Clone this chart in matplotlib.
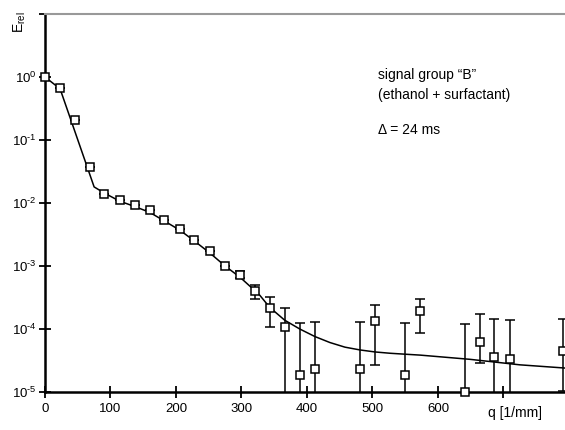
import numpy as np
import matplotlib
matplotlib.use("Agg")
import matplotlib.pyplot as plt

plt.rcParams['font.family'] = ['Liberation Sans', 'DejaVu Sans']
plt.rcParams['mathtext.fontset'] = 'custom'
plt.rcParams['mathtext.rm'] = 'Liberation Sans'
plt.rcParams['mathtext.it'] = 'Liberation Sans'
plt.rcParams['mathtext.default'] = 'regular'
plt.rcParams['axes.unicode_minus'] = False

# measured points
q = [0, 23, 46, 69, 90, 114, 137, 160, 182, 206, 228, 252, 275, 298, 320, 343,
     367, 389, 412, 481, 504, 550, 573, 641, 664, 686, 710, 791]
E = [1.0, 0.67, 0.21, 0.037, 0.0139, 0.0112, 0.0093, 0.0077, 0.0054, 0.0039,
     0.0026, 0.0017, 0.0010, 7.2e-4, 4.0e-4, 2.14e-4, 1.07e-4, 1.86e-5, 2.3e-5,
     2.3e-5, 1.34e-4, 1.86e-5, 1.94e-4, 1.0e-5, 6.2e-5, 3.6e-5, 3.3e-5, 4.5e-5]
err_hi = [0, 0, 0, 0, 0, 0, 0, 0, 0, 0, 0, 0, 0, 1.0e-4, 1.0e-4, 1.07e-4,
          1.07e-4, 1.06e-4, 1.06e-4, 1.06e-4, 1.07e-4, 1.05e-4, 1.07e-4, 1.1e-4,
          1.1e-4, 1.08e-4, 1.05e-4, 1.0e-4]
err_lo = [0, 0, 0, 0, 0, 0, 0, 0, 0, 0, 0, 0, 0, 0.8e-4, 1.0e-4, 1.07e-4,
          1.07e-4, 1.86e-5, 2.3e-5, 2.3e-5, 1.07e-4, 1.86e-5, 1.07e-4, 1.0e-5,
          3.3e-5, 3.6e-5, 3.3e-5, 3.45e-5]

# fitted curve
q_fit = [0, 23, 75, 90, 114, 137, 160, 182, 206, 228, 252, 275, 298, 320, 328,
         343, 366, 389, 412, 435, 458, 481, 504, 527, 550, 573, 649, 725, 794]
E_fit = [1.0, 0.65, 0.018, 0.0145, 0.0107, 0.0088, 0.0071, 0.0052, 0.0037,
         0.0025, 0.0016, 0.00100, 0.00066, 0.00041, 3.43e-4, 2.21e-4, 1.38e-4,
         1.0e-4, 7.6e-5, 6.1e-5, 5.15e-5, 4.65e-5, 4.32e-5, 4.12e-5, 3.98e-5,
         3.85e-5, 3.3e-5, 2.7e-5, 2.4e-5]

xticks = [0, 100, 200, 300, 400, 500, 600, 700]
xticklabels = ['0', '100', '200', '300', '400', '500', '600', '']
yticks = [1e-5, 1e-4, 1e-3, 1e-2, 1e-1, 1e0, 1e1]
yticklabels = [r'$10^{\text{-5}}$', r'$10^{\text{-4}}$', r'$10^{\text{-3}}$',
               r'$10^{\text{-2}}$', r'$10^{\text{-1}}$', r'$10^{0}$', '']

fig = plt.figure(figsize=(5.65, 4.30), dpi=100)
ax = fig.add_axes([45/565, 38/430, 520/565, 378/430])
ax.set_yscale('log', nonpositive='clip')
ax.set_xlim(0, 794)
ax.set_ylim(1e-5, 10)

ax.plot(q_fit, E_fit, color='black', lw=1.1, zorder=2)
ax.errorbar(q, E, yerr=[err_lo, err_hi], fmt='none', ecolor='black',
            elinewidth=1.1, capsize=3.5, capthick=1.1, zorder=3)
ax.plot(q, E, 's', ms=6, mfc='white', mec='black', mew=1.1, zorder=4,
        clip_on=False)

ax.set_xticks(xticks)
ax.set_xticklabels(xticklabels)
ax.set_yticks(yticks)
ax.set_yticklabels(yticklabels)
ax.minorticks_off()
ax.tick_params(direction='inout', length=8, width=1.3, labelsize=9.5,
               colors='black')
ax.tick_params(axis='x', pad=4)
ax.tick_params(axis='y', pad=2)

for s in ['left', 'bottom']:
    ax.spines[s].set_linewidth(1.8)
    ax.spines[s].set_color('black')
ax.spines['top'].set_color('#999999')
ax.spines['top'].set_linewidth(1.5)
ax.spines['right'].set_visible(False)

fig.text(20/565, 1 - 22/430, '$E_{rel}$', rotation=90, ha='center', va='center',
         fontsize=10)
fig.text(515/565, 1 - 413/430, 'q [1/mm]', ha='center', va='center', fontsize=10)

fig.text(378/565, 1 - 75/430, 'signal group \u201cB\u201d', ha='left', va='center', fontsize=10)
fig.text(378/565, 1 - 95/430, '(ethanol + surfactant)', ha='left', va='center', fontsize=10)
fig.text(378/565, 1 - 130/430, '\u0394 = 24 ms', ha='left', va='center', fontsize=10)

fig.savefig('out.png', dpi=100)
